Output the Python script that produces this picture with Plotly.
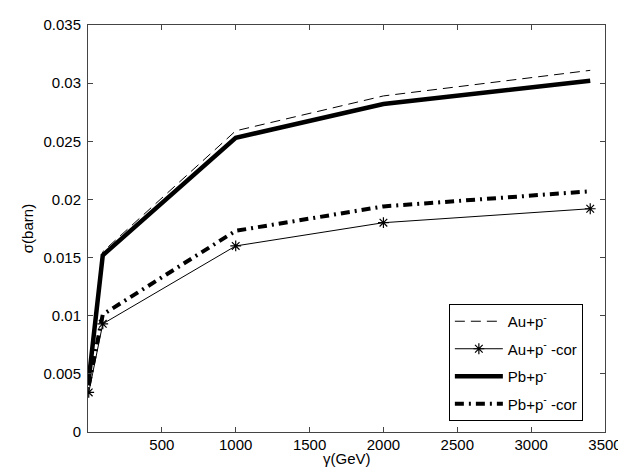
import plotly.graph_objects as go

gamma = [5, 100, 1000, 2000, 3400]
au = [0.0052, 0.0155, 0.0259, 0.0289, 0.0311]
au_cor = [0.0034, 0.0093, 0.0160, 0.0180, 0.0192]
pb = [0.0045, 0.0152, 0.0253, 0.0282, 0.0302]
pb_cor = [0.0040, 0.0101, 0.0173, 0.0194, 0.0207]

names = ["Au+p<sup>-</sup>", "Au+p<sup>-</sup> -cor", "Pb+p<sup>-</sup>", "Pb+p<sup>-</sup> -cor"]

xticks = [500, 1000, 1500, 2000, 2500, 3000, 3500]
yticks = [0, 0.005, 0.01, 0.015, 0.02, 0.025, 0.03, 0.035]
yticklabels = ["0", "0.005", "0.01", "0.015", "0.02", "0.025", "0.03", "0.035"]
xtitle = "γ(GeV)"
ytitle = "σ(barn)"

FONT = "Liberation Sans, Arial, Helvetica, sans-serif"

fig = go.Figure()
fig.add_trace(go.Scatter(x=gamma, y=au, mode="lines", name=names[0], legendgroup="a",
                         line=dict(color="black", width=1, dash="10px,6px")))
fig.add_trace(go.Scatter(x=gamma, y=au_cor, mode="lines+markers", name=names[1], legendgroup="b",
                         line=dict(color="black", width=1),
                         marker=dict(symbol="asterisk-open", size=9, color="black",
                                     line=dict(color="black", width=1.2))))
fig.add_trace(go.Scatter(x=gamma, y=pb, mode="lines", name=names[2], legendgroup="c",
                         line=dict(color="black", width=4.5)))
fig.add_trace(go.Scatter(x=gamma, y=pb_cor, mode="lines", name=names[3], legendgroup="d",
                         line=dict(color="black", width=4, dash="9px,5px,2px,5px")))

axis_common = dict(showline=True, linecolor="#444444", linewidth=1, mirror="ticks",
                   ticks="inside", ticklen=5, tickcolor="#444444", showgrid=False,
                   zeroline=False, automargin=False,
                   tickfont=dict(family=FONT, size=15, color="black"))

fig.update_xaxes(range=[0, 3500], tickvals=xticks, ticktext=[str(v) for v in xticks],
                 ticklabelstandoff=-1, **axis_common)
fig.update_yaxes(range=[0, 0.035], tickvals=yticks, ticktext=yticklabels,
                 ticklabelstandoff=3,
                 title=dict(text=ytitle, font=dict(family=FONT, size=15, color="black"), standoff=6),
                 **axis_common)

fig.add_annotation(text=xtitle, xref="paper", yref="paper", x=0.5, y=-0.066,
                   xanchor="center", yanchor="middle", showarrow=False,
                   font=dict(family=FONT, size=15, color="black"))

fig.update_layout(
    width=626, height=467,
    margin=dict(l=80, r=29, t=17, b=43),
    plot_bgcolor="white", paper_bgcolor="white",
    showlegend=True,
    legend=dict(x=0.698, y=0.3145, xanchor="left", yanchor="top",
                bgcolor="white", bordercolor="black", borderwidth=1,
                font=dict(family=FONT, size=15, color="black"),
                tracegroupgap=5, itemwidth=48),
)

fig.write_html("out.html")
